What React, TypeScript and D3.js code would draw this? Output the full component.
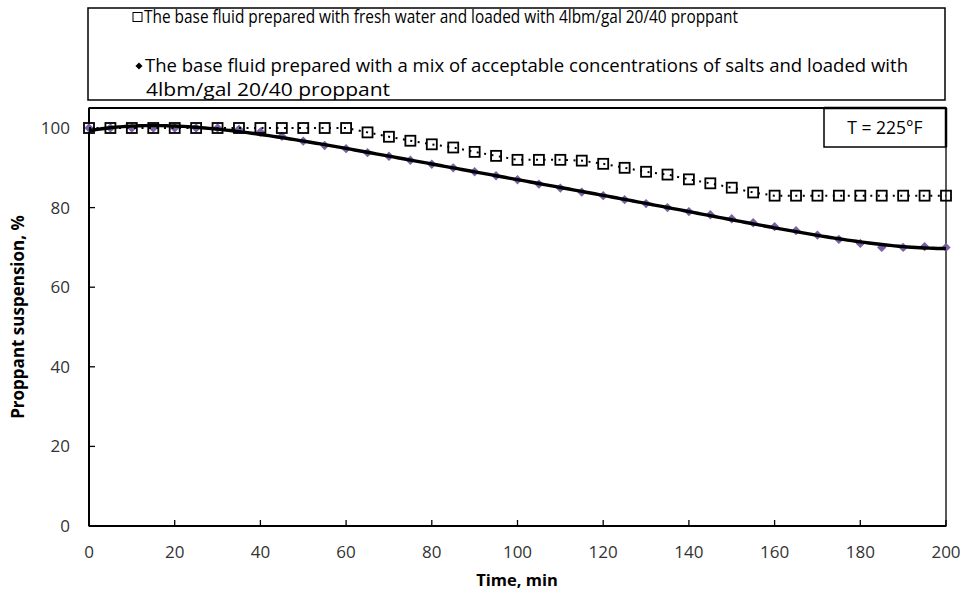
import React from "react";
import * as d3 from "d3";

const timeMin = [0, 5, 10, 15, 20, 25, 30, 35, 40, 45, 50, 55, 60, 65, 70, 75, 80, 85, 90, 95, 100, 105, 110, 115, 120, 125, 130, 135, 140, 145, 150, 155, 160, 165, 170, 175, 180, 185, 190, 195, 200];
const freshWater = [100, 100, 100, 100, 100, 100, 100, 100, 100, 100, 100, 100, 100, 98.9, 97.8, 96.8, 95.9, 95.1, 94, 93, 92, 92, 92, 91.8, 91, 90, 89, 88.3, 87.1, 86.1, 85, 83.8, 83, 83, 83, 83, 83, 83, 83, 83, 83];
const saltMix = [100, 100, 100, 100, 100, 100, 100, 99.7, 99, 97.9, 96.7, 95.6, 94.8, 93.8, 92.9, 91.9, 90.9, 90, 89, 88, 87, 85.9, 84.9, 83.9, 83, 82, 81, 80, 79, 78.2, 77.2, 76.2, 75.2, 74.2, 73.1, 72, 71, 70, 70, 70.2, 70];
const xTicks = [0, 20, 40, 60, 80, 100, 120, 140, 160, 180, 200];
const yTicks = [0, 20, 40, 60, 80, 100];
const legendLine1 = "The base fluid prepared with fresh water and loaded with 4lbm/gal 20/40 proppant";
const legendLine2 = "The base fluid prepared with a mix of acceptable concentrations of salts and loaded with";
const legendLine3 = "4lbm/gal 20/40 proppant";
const tempLabel = "T = 225°F";
const xTitle = "Time, min";
const yTitle = "Proppant suspension, %";

const FONT = "'Open Sans', 'Liberation Sans', sans-serif";

// least-squares polynomial trendline (like a spreadsheet trendline) computed from the data
function polyFit(xs: number[], ys: number[], deg: number) {
  const n = deg + 1;
  const A: number[][] = Array.from({ length: n }, () => new Array(n + 1).fill(0));
  xs.forEach((xv, k) => {
    for (let i = 0; i < n; i++) {
      for (let j = 0; j < n; j++) A[i][j] += Math.pow(xv, i + j);
      A[i][n] += Math.pow(xv, i) * ys[k];
    }
  });
  for (let c = 0; c < n; c++) {
    let p = c;
    for (let r = c + 1; r < n; r++) if (Math.abs(A[r][c]) > Math.abs(A[p][c])) p = r;
    [A[c], A[p]] = [A[p], A[c]];
    for (let r = 0; r < n; r++) {
      if (r === c) continue;
      const f = A[r][c] / A[c][c];
      for (let k = c; k <= n; k++) A[r][k] -= f * A[c][k];
    }
  }
  const coef = A.map((row, i) => row[n] / row[i]);
  return (xv: number) => coef.reduce((s, cf, i) => s + cf * Math.pow(xv, i), 0);
}

export default function App() {
  const W = 966, H = 598;
  const left = 89, right = 946, top = 108, bottom = 526;
  const x = d3.scaleLinear().domain([0, 200]).range([left, right]);
  const y = d3.scaleLinear().domain([0, 100]).range([bottom, 128]);

  const freshPts = timeMin.map((t, i) => [x(t), y(freshWater[i])] as [number, number]);
  const saltPts = timeMin.map((t, i) => [x(t), y(saltMix[i])] as [number, number]);
  const fit = polyFit(timeMin.map((t) => t / 200), saltMix, 5);
  const trendPts = d3.range(0, 200.01, 1).map((t) => [x(t), y(fit(t / 200))] as [number, number]);
  const straight = d3.line();

  return (
    <svg width={W} height={H} style={{ position: "absolute", left: 0, top: 0, background: "#fff" }}>
      <rect x={0} y={0} width={W} height={H} fill="#fff" />
      {/* legend */}
      <rect x={88} y={8} width={857} height={92} fill="#fff" stroke="#000" strokeWidth={1.5} />
      <rect x={133} y={12.5} width={9} height={9} fill="none" stroke="#000" strokeWidth={1} />
      <text x={144} y={23} fontFamily={FONT} fontSize={17.5} fill="#000" textLength={594} lengthAdjust="spacingAndGlyphs">{legendLine1}</text>
      <rect x={-2.5} y={-2.5} width={5} height={5} transform="translate(139,66) rotate(45)" fill="#000" />
      <text x={145} y={72} fontFamily={FONT} fontSize={17.5} fill="#000" textLength={763} lengthAdjust="spacingAndGlyphs">{legendLine2}</text>
      <text x={146} y={96} fontFamily={FONT} fontSize={17.5} fill="#000" textLength={244} lengthAdjust="spacingAndGlyphs">{legendLine3}</text>

      {/* plot frame */}
      <rect x={left} y={top} width={right - left} height={bottom - top} fill="none" stroke="#000" strokeWidth={1.3} />
      <line x1={left} x2={right} y1={top} y2={top} stroke="#000" strokeWidth={2} />
      <line x1={left} x2={left} y1={top} y2={bottom} stroke="#000" strokeWidth={2} />
      <line x1={left} x2={right} y1={bottom} y2={bottom} stroke="#000" strokeWidth={2} />

      {/* ticks */}
      {xTicks.map((t) => (
        <g key={"x" + t}>
          <line x1={x(t)} x2={x(t)} y1={bottom} y2={bottom - 6} stroke="#000" strokeWidth={1.3} />
          <text x={x(t)} y={558} textAnchor="middle" fontFamily={FONT} fontSize={17} fill="#333">{t}</text>
        </g>
      ))}
      {yTicks.map((t) => (
        <g key={"y" + t}>
          <line x1={left} x2={left + 6} y1={y(t)} y2={y(t)} stroke="#000" strokeWidth={1.3} />
          <text x={70} y={y(t) + 6} textAnchor="end" fontFamily={FONT} fontSize={17} fill="#333">{t}</text>
        </g>
      ))}

      {/* salt series: diamonds + trend line */}
      {saltPts.map((p, i) => (
        <rect key={"d" + i} x={-3.3} y={-3.3} width={6.6} height={6.6} transform={`translate(${p[0]},${p[1]}) rotate(45)`} fill="#7b62a6" />
      ))}
      <path d={straight(trendPts)!} fill="none" stroke="#000" strokeWidth={3.4} />

      {/* fresh water series: dotted line + open squares */}
      <path d={straight(freshPts)!} fill="none" stroke="#000" strokeWidth={2} strokeDasharray="2 5.5" />
      {freshPts.map((p, i) => (
        <rect key={"s" + i} x={p[0] - 5} y={p[1] - 5} width={10} height={10} fill="none" stroke="#000" strokeWidth={1.8} />
      ))}

      {/* temperature box */}
      <rect x={824} y={108} width={122} height={39} fill="#fff" stroke="#000" strokeWidth={1.5} />
      <line x1={824} x2={946} y1={108} y2={108} stroke="#000" strokeWidth={2.5} />
      <line x1={946} x2={946} y1={108} y2={147} stroke="#000" strokeWidth={2.5} />
      <text x={885} y={134} textAnchor="middle" fontFamily={FONT} fontSize={17.5} fill="#000">{tempLabel}</text>

      {/* axis titles */}
      <text x={517} y={586} textAnchor="middle" fontFamily={FONT} fontSize={16.5} fontWeight="bold" fill="#000">{xTitle}</text>
      <text transform="translate(24,317) rotate(-90)" textAnchor="middle" fontFamily={FONT} fontSize={17} fontWeight="bold" fill="#000">{yTitle}</text>
    </svg>
  );
}
